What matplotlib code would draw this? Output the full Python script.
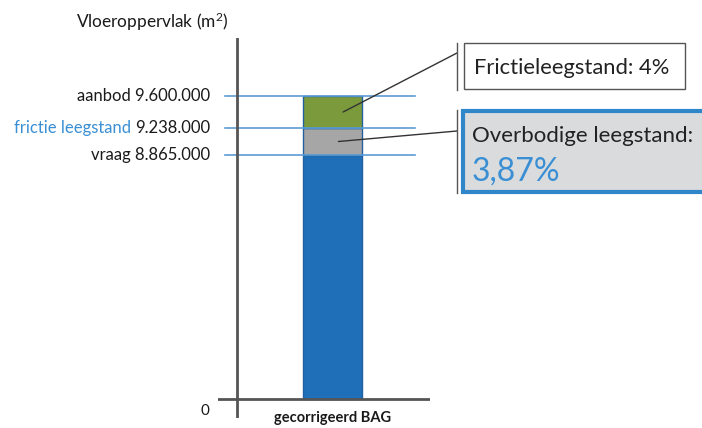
import numpy as np
import matplotlib
matplotlib.use("Agg")
import matplotlib.pyplot as plt
from matplotlib.patches import Rectangle
from matplotlib.lines import Line2D

# ---- data ----
category = "gecorrigeerd BAG"
vraag = 8865000          # demand
frictie = 9238000        # demand + friction vacancy
aanbod = 9600000         # supply
level_names = ["aanbod", "frictie leegstand", "vraag"]
level_values = [aanbod, frictie, vraag]
level_labels = ["9.600.000", "9.238.000", "8.865.000"]
frictie_text = "Frictieleegstand: 4%"
overbodig_text = "Overbodige leegstand:"
overbodig_pct = "3,87%"

FONT = "Lato"
plt.rcParams['font.family'] = [FONT, 'DejaVu Sans']
plt.rcParams['mathtext.fontset'] = 'custom'
plt.rcParams['mathtext.rm'] = FONT
plt.rcParams['mathtext.it'] = FONT

W, H = 702, 428
fig = plt.figure(figsize=(W / 100, H / 100), dpi=100)

def fx(x):
    return x / W

def fy(y):
    return 1 - y / H

# piecewise linear y scale (compressed lower part, as in the original)
kv = np.array([0.0, vraag, frictie, aanbod])
kp = np.array([0.0, 244.0, 271.0, 303.0])

def _pw(x, xs, ys):
    x = np.asarray(x, dtype=float)
    out = np.interp(x, xs, ys)
    s0 = (ys[1] - ys[0]) / (xs[1] - xs[0])
    s1 = (ys[-1] - ys[-2]) / (xs[-1] - xs[-2])
    out = np.where(x < xs[0], ys[0] + (x - xs[0]) * s0, out)
    out = np.where(x > xs[-1], ys[-1] + (x - xs[-1]) * s1, out)
    return out

fwd = lambda v: _pw(v, kv, kp)
inv = lambda p: _pw(p, kp, kv)

ax = fig.add_axes([fx(218), 1 - 418 / H, (430 - 218) / W, (418 - 38) / H])
ax.set_yscale('function', functions=(fwd, inv))
ax.set_ylim(float(inv(-19.0)), float(inv(361.0)))
ax.set_xlim((218 - 332.5) / 59, (430 - 332.5) / 59)
ax.axis('off')

# bars
bw = 1.0
ax.bar(0, vraag, width=bw, color="#1f6fb8", edgecolor="#22609f", lw=1, zorder=3)
ax.bar(0, frictie - vraag, bottom=vraag, width=bw, color="#a6a6a6", edgecolor="#22609f", lw=1, zorder=3)
ax.bar(0, aanbod - frictie, bottom=frictie, width=bw, color="#7b9a3c", edgecolor="#22609f", lw=1, zorder=3)

# reference lines
x_ax = (237 - 332.5) / 59
for v in level_values:
    ax.plot([(225 - 332.5) / 59, (415 - 332.5) / 59], [v, v], color="#5b9bd5", lw=1.2, zorder=4)

# axes lines
ax.axvline(x_ax, color="#555555", lw=2, zorder=5)
ax.axhline(0, color="#555555", lw=2, zorder=5)

# level labels
tr = ax.get_yaxis_transform()
xlab = (210 - 218) / (430 - 218)
fs_lab = 12
for name, v, lab in zip(level_names, level_values, level_labels):
    if name == "frictie leegstand":
        t = ax.text(xlab, v, lab, transform=tr, ha='right', va='center', fontsize=fs_lab, color="#1a1a1a")
        ax.annotate(name + " ", xy=(0, 0), xycoords=t, xytext=(0, 0), textcoords='offset points',
                    ha='right', va='bottom', fontsize=fs_lab, color="#3a8fd4")
    else:
        ax.text(xlab, v, name + " " + lab, transform=tr, ha='right', va='center', fontsize=fs_lab, color="#1a1a1a")

fig.text(fx(228), fy(22), r"Vloeroppervlak (m$^2$)", ha='right', va='center', fontsize=12.4, color="#1a1a1a")
fig.text(fx(205), fy(411), "0", ha='center', va='center', fontsize=11, color="#1a1a1a")
fig.text(fx(333), fy(418), category, ha='center', va='center',
         fontsize=10.5, fontweight='bold', color="#1a1a1a")

# callout boxes
fig.patches.append(Rectangle((fx(464), fy(89)), fx(685) - fx(464), fy(43) - fy(89),
                             transform=fig.transFigure, facecolor='white', edgecolor='#555555', lw=1))
fig.lines.append(Line2D([fx(457), fx(457)], [fy(43), fy(90)], transform=fig.transFigure, color='#555555', lw=1))
fig.text(fx(474), fy(68), frictie_text, ha='left', va='center', fontsize=15.8, color="#222222")

fig.patches.append(Rectangle((fx(463), fy(192)), fx(710) - fx(463), fy(111) - fy(192),
                             transform=fig.transFigure, facecolor='#d9dbdc', edgecolor='#2f86c8', lw=3))
fig.lines.append(Line2D([fx(457), fx(457)], [fy(110), fy(193)], transform=fig.transFigure, color='#555555', lw=1))
fig.text(fx(472), fy(136), overbodig_text, ha='left', va='center', fontsize=16, color="#222222")
fig.text(fx(472), fy(172), overbodig_pct, ha='left', va='center', fontsize=23, color="#3a8fd4")

# leader lines
ax.annotate("", xy=(0.18, (aanbod + frictie) / 2), xycoords='data',
            xytext=(457, H - 53), textcoords='figure pixels',
            arrowprops=dict(arrowstyle='-', color='#333333', lw=1, shrinkA=0, shrinkB=0), zorder=6)
ax.annotate("", xy=(0.1, (frictie + vraag) / 2), xycoords='data',
            xytext=(457, H - 131), textcoords='figure pixels',
            arrowprops=dict(arrowstyle='-', color='#333333', lw=1, shrinkA=0, shrinkB=0), zorder=6)

fig.savefig("out.png", dpi=100)
